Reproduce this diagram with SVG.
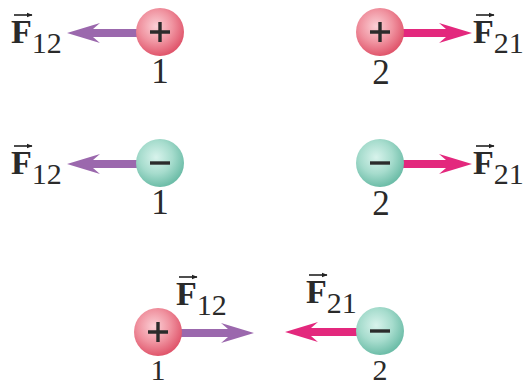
<svg xmlns="http://www.w3.org/2000/svg" width="525" height="387" viewBox="0 0 525 387">
<defs>
<radialGradient id="pink" cx="0.42" cy="0.38" r="0.62">
<stop offset="0" stop-color="#fbd0d6"/>
<stop offset="0.55" stop-color="#f093a0"/>
<stop offset="1" stop-color="#e0566c"/>
</radialGradient>
<radialGradient id="teal" cx="0.42" cy="0.38" r="0.62">
<stop offset="0" stop-color="#d8f3ec"/>
<stop offset="0.55" stop-color="#a6dccd"/>
<stop offset="1" stop-color="#6dbda8"/>
</radialGradient>
<marker id="vh" viewBox="0 0 10 10" refX="9" refY="5" markerWidth="6" markerHeight="6" markerUnits="userSpaceOnUse" orient="auto">
<path d="M0,1 L10,5 L0,9 Z" fill="#222"/>
</marker>
</defs>
<style>
.lab{font-family:"Liberation Serif","Times New Roman",serif;fill:#2a2a2a}
.F{font-family:"Liberation Serif","Times New Roman",serif;font-weight:bold;font-size:34px;fill:#2a2a2a}
.sub{font-size:30px;font-weight:normal}
.num{font-size:35px;text-anchor:middle}
.vec{stroke:#222;stroke-width:1.6;fill:none;marker-end:url(#vh)}
.sign{stroke:#2b2b2b;stroke-width:3.4;stroke-linecap:butt;fill:none}
.pu{fill:#9b68ad}
.mg{fill:#e3287d}
</style>

<g id="connectors">
<path class="pu" d="M137,29 L93,29 L100,23 L67,33 L100,43 L93,37 L137,37 Z"/>
<path class="mg" d="M403,29 L446,29 L439,23 L472,33 L439,43 L446,37 L403,37 Z"/>
<path class="pu" d="M137,160 L93,160 L100,154 L67,164 L100,174 L93,168 L137,168 Z"/>
<path class="mg" d="M403,160 L446,160 L439,154 L472,164 L439,174 L446,168 L403,168 Z"/>
<path class="pu" d="M181,329 L228,329 L221,323 L254,333 L221,343 L228,337 L181,337 Z"/>
<path class="mg" d="M357,328 L311,328 L318,322 L285,332 L318,342 L311,336 L357,336 Z"/>
</g>

<g id="q1-top">
<circle cx="160" cy="32" r="24" fill="url(#pink)"/>
<path class="sign" d="M150,32 H170 M160,22 V42"/>
<text class="lab num" x="160" y="83">1</text>
</g>
<g id="q2-top">
<circle cx="380" cy="32" r="24" fill="url(#pink)"/>
<path class="sign" d="M370,32 H390 M380,22 V42"/>
<text class="lab num" x="381" y="84">2</text>
</g>
<g id="q1-mid">
<circle cx="160" cy="163" r="24" fill="url(#teal)"/>
<path class="sign" d="M150,163 H170"/>
<text class="lab num" x="160" y="214">1</text>
</g>
<g id="q2-mid">
<circle cx="380" cy="163" r="24" fill="url(#teal)"/>
<path class="sign" d="M370,163 H390"/>
<text class="lab num" x="381" y="215">2</text>
</g>
<g id="q1-bot">
<circle cx="158" cy="332" r="24" fill="url(#pink)"/>
<path class="sign" d="M148,332 H168 M158,322 V342"/>
<text class="lab num" x="158" y="380" style="font-size:30px">1</text>
</g>
<g id="q2-bot">
<circle cx="380" cy="331" r="24" fill="url(#teal)"/>
<path class="sign" d="M370,331 H390"/>
<text class="lab num" x="380" y="380" style="font-size:30px">2</text>
</g>

<g id="labels">
<path class="vec" d="M14,15 H32"/>
<text class="F" x="11" y="43">F<tspan class="sub" dy="10">12</tspan></text>
<path class="vec" d="M476,15 H494"/>
<text class="F" x="473" y="43">F<tspan class="sub" dy="10">21</tspan></text>
<path class="vec" d="M14,146 H32"/>
<text class="F" x="11" y="174">F<tspan class="sub" dy="10">12</tspan></text>
<path class="vec" d="M476,146 H494"/>
<text class="F" x="473" y="174">F<tspan class="sub" dy="10">21</tspan></text>
<path class="vec" d="M179,277 H197"/>
<text class="F" x="176" y="305">F<tspan class="sub" dy="10">12</tspan></text>
<path class="vec" d="M309,275 H327"/>
<text class="F" x="306" y="303">F<tspan class="sub" dy="10">21</tspan></text>
</g>
</svg>
